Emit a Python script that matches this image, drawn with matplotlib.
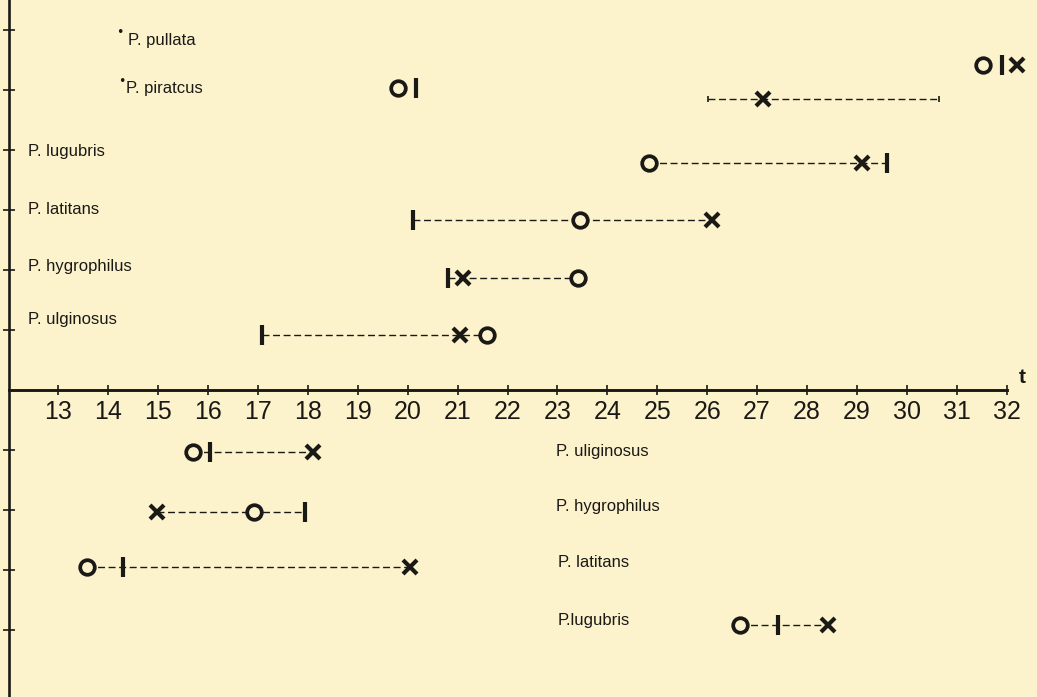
import numpy as np
import matplotlib
matplotlib.use("Agg")
import matplotlib.pyplot as plt
from matplotlib import font_manager as fm

nan = np.nan

# ---------------- data (t values) ----------------
t_ticks = list(range(13, 33))

# rows above the t axis (bottom to top), then rows below the axis (top to bottom)
row_ids = ["up_ulginosus", "up_hygrophilus", "up_latitans", "up_lugubris",
           "up_piratcus_range", "up_piratcus", "up_pullata",
           "lo_uliginosus", "lo_hygrophilus", "lo_latitans", "lo_lugubris"]
o_t   = [21.59, 23.41, 23.45, 24.83, nan, 19.80, 31.53, 15.70, 16.92, 13.57, 26.66]
bar_t = [17.08, 20.81, 20.11, 29.60, nan, 20.16, 31.91, 16.04, 17.94, 14.29, 27.42]
x_t   = [21.05, 21.11, 26.10, 29.10, 27.12, nan, 32.21, 18.10, 14.97, 20.04, 28.42]
span_start = [17.08, 20.81, 20.11, 24.83, 26.02, nan, nan, 15.70, 14.97, 13.57, 26.66]
span_end   = [21.59, 23.41, 26.10, 29.60, 30.65, nan, nan, 18.10, 17.94, 20.04, 28.42]

upper_labels = ["P. ulginosus", "P. hygrophilus", "P. latitans", "P. lugubris",
                "P. piratcus", "P. pullata"]
lower_labels = ["P. uliginosus", "P. hygrophilus", "P. latitans", "P.lugubris"]

# ---------------- layout ----------------
row_level = [0.917, 1.867, 2.833, 3.783, 4.85, 5.03, 5.417,
             -1.033, -2.033, -2.95, -3.917]
upper_label_pos = [(12.39, 1.17), (12.39, 2.05), (12.39, 3.0), (12.39, 3.98),
                   (14.35, 5.02), (14.39, 5.83)]
dot_pos = [(14.27, 5.14), (14.23, 5.96)]
lower_label_pos = [(22.97, -1.02), (22.97, -1.95), (23.01, -2.88), (23.01, -3.85)]
y_ticks = [6, 5, 4, 3, 2, 1, -1, -2, -3, -4]

bg = "#fcf3cd"
ink = "#1b1916"

names = {f.name for f in fm.fontManager.ttflist}
narrow = "Liberation Sans Narrow" if "Liberation Sans Narrow" in names else "Liberation Sans"
sans = "Liberation Sans" if "Liberation Sans" in names else "DejaVu Sans"

fig = plt.figure(figsize=(10.37, 6.97), dpi=100, facecolor=bg)
ax = fig.add_axes([0, 0, 1, 1], facecolor=bg)
ax.set_xlim(11.828, 32.61)
ax.set_ylim(-5.117, 6.5)

for s in ("top", "right"):
    ax.spines[s].set_visible(False)
ax.spines["left"].set_position(("data", 12))
ax.spines["left"].set_linewidth(1.9)
ax.spines["left"].set_color(ink)
ax.spines["bottom"].set_position(("data", 0))
ax.spines["bottom"].set_linewidth(2.1)
ax.spines["bottom"].set_color(ink)
ax.spines["bottom"].set_bounds(12, 32)

ax.set_xticks(t_ticks)
ax.set_xticklabels([str(v) for v in t_ticks], fontfamily=narrow, fontsize=18, color=ink)
ax.tick_params(axis="x", direction="inout", length=7, width=1.2, color=ink, pad=4)
ax.set_yticks(y_ticks)
ax.set_yticklabels([])
ax.tick_params(axis="y", direction="inout", length=8, width=1.2, color=ink)

dash = (0, (5.0, 2.6))
for i in range(len(row_ids)):
    y = row_level[i]
    if not np.isnan(span_start[i]):
        ax.plot([span_start[i], span_end[i]], [y, y], color=ink, lw=1.0,
                linestyle=dash, zorder=2)
        marks = [v for v in (o_t[i], bar_t[i], x_t[i]) if not np.isnan(v)]
        for end in (span_start[i], span_end[i]):
            if all(abs(end - m) > 1e-6 for m in marks):
                ax.plot([end], [y], marker="|", ms=5, mew=1.2, color=ink, zorder=3)
    if not np.isnan(bar_t[i]):
        ax.plot([bar_t[i]], [y], marker="|", ms=15, mew=3.0, color=ink, zorder=4)
    if not np.isnan(x_t[i]):
        ax.plot([x_t[i]], [y], marker="x", ms=10.5, mew=3.0, color=ink, zorder=4)
    if not np.isnan(o_t[i]):
        ax.plot([o_t[i]], [y], marker="o", ms=10.5, mew=2.7, mfc=bg, mec=ink, zorder=4)

for lab, (tx, ty) in zip(upper_labels, upper_label_pos):
    ax.text(tx, ty, lab, fontfamily=sans, fontsize=12, color=ink, ha="left", va="center")
for (tx, ty) in dot_pos:
    ax.text(tx, ty, "\u2022", fontfamily="DejaVu Sans", fontsize=9, color=ink,
            ha="center", va="center")
for lab, (tx, ty) in zip(lower_labels, lower_label_pos):
    ax.text(tx, ty, lab, fontfamily=sans, fontsize=12, color=ink, ha="left", va="center")

ax.text(32.31, 0.2, "t", fontfamily=sans, fontsize=15, fontweight="bold", color=ink,
        ha="center", va="center")

fig.savefig("out.png", dpi=100, facecolor=bg)
